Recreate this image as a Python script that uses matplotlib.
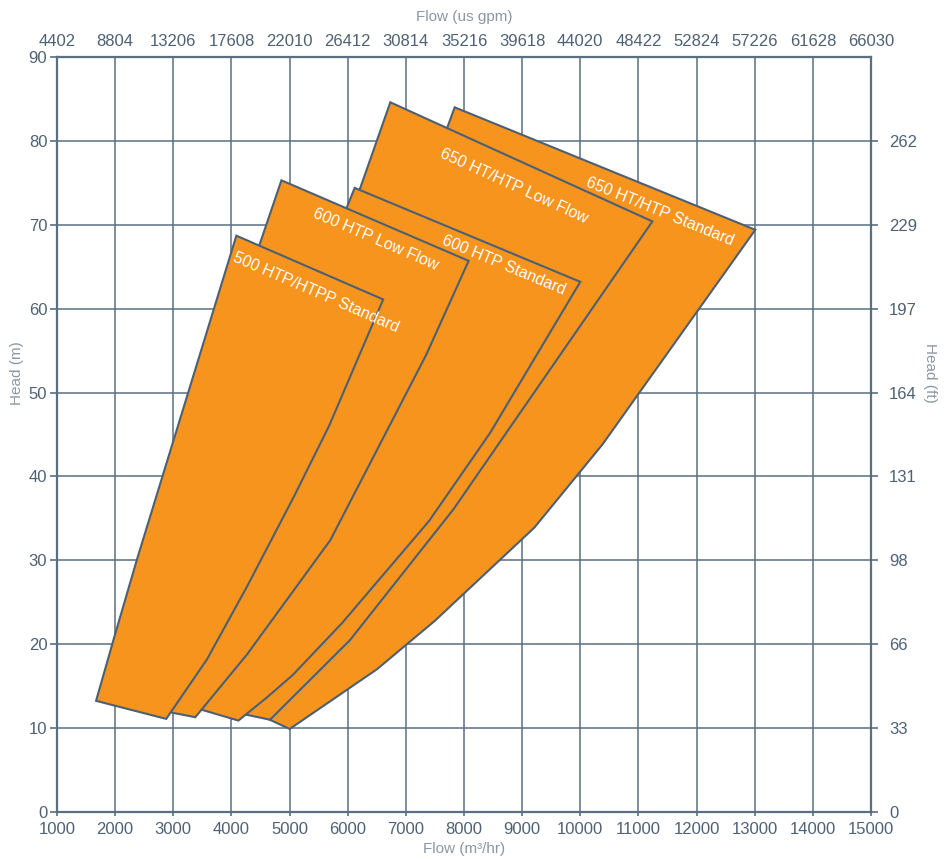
import matplotlib
matplotlib.use('Agg')
import matplotlib.pyplot as plt
import numpy as np
from matplotlib.patches import Polygon

plt.rcParams['font.family'] = ['Liberation Sans', 'DejaVu Sans']

# ---------------- data ----------------
flow_ticks = list(range(1000, 15001, 1000))
gpm_labels = ['4402', '8804', '13206', '17608', '22010', '26412', '30814',
              '35216', '39618', '44020', '48422', '52824', '57226', '61628', '66030']
head_ticks = list(range(0, 91, 10))
ft_ticks = list(range(0, 81, 10))
ft_labels = ['0', '33', '66', '98', '131', '164', '197', '229', '262']

# operating envelopes (flow m3/hr, head m), back to front
std650_flow = [4000, 7713, 7840, 13010, 10380, 9210, 7500, 6500, 5003]
std650_head = [13.1, 81.6, 84.0, 69.4, 43.8, 33.9, 22.8, 17.0, 9.9]

lf650_flow = [3300, 6206, 6733, 11240, 7820, 6040, 4664]
lf650_head = [13.0, 74.2, 84.6, 70.4, 36.1, 20.5, 11.0]

std600_flow = [2600, 6120, 10000, 8450, 7400, 5900, 5050, 4600, 4120]
std600_head = [14.0, 74.4, 63.2, 45.2, 34.7, 22.5, 16.3, 13.6, 10.9]

lf600_flow = [1900, 4487, 4860, 8080, 7350, 5700, 4270, 3379]
lf600_head = [13.3, 67.7, 75.3, 65.7, 54.5, 32.4, 18.8, 11.3]

std500_flow = [1672, 1975, 2375, 4085, 6610, 5678, 5075, 4270, 3580, 2879]
std500_head = [13.25, 20.6, 30.1, 68.7, 61.1, 46.0, 37.6, 26.9, 18.2, 11.1]

names = ['650 HT/HTP Standard', '650 HT/HTP Low Flow', '600 HTP Standard',
         '600 HTP Low Flow', '500 HTP/HTPP Standard']
flows = [std650_flow, lf650_flow, std600_flow, lf600_flow, std500_flow]
heads = [std650_head, lf650_head, std600_head, lf600_head, std500_head]
# index of top vertex and top-right vertex in each outline
top_idx = [2, 2, 1, 2, 3]
label_flow = [10155, 7650, 7690, 5460, 4100]
label_head = [75.9, 79.4, 69.0, 72.3, 67.0]

# ---------------- style ----------------
fill_c = '#F7941D'
edge_c = '#4B6074'
grid_c = '#5B6F83'
tick_c = '#4E6174'
title_c = '#8A97A5'

fig = plt.figure(figsize=(9.51, 8.59), dpi=100)
ax = fig.add_axes([57 / 951, 47 / 859, 814 / 951, 755 / 859])
ax.set_xlim(1000, 15000)
ax.set_ylim(0, 90)

ax.set_xticks(flow_ticks)
ax.set_yticks(head_ticks)
ax.grid(True, color=grid_c, linewidth=1.1, zorder=0)
ax.set_axisbelow(True)
for s in ax.spines.values():
    s.set_color(grid_c)
    s.set_linewidth(1.6)
ax.tick_params(axis='x', colors=tick_c, labelsize=12, length=3, pad=4, width=1.1)
ax.tick_params(axis='y', colors=tick_c, labelsize=12, length=5, pad=2, width=1.1)

for f, h in zip(flows, heads):
    poly = Polygon(np.column_stack([f, h]), closed=True, facecolor=fill_c,
                   edgecolor=edge_c, linewidth=1.5, zorder=2, joinstyle='miter')
    ax.add_patch(poly)

for name, f, h, ti, lx, ly in zip(names, flows, heads, top_idx, label_flow, label_head):
    p1 = ax.transData.transform((f[ti], h[ti]))
    p2 = ax.transData.transform((f[ti + 1], h[ti + 1]))
    ang = np.degrees(np.arctan2(p2[1] - p1[1], p2[0] - p1[0]))
    ax.text(lx, ly, name, color='white', fontsize=11.5, rotation=ang,
            rotation_mode='anchor', ha='left', va='top', zorder=5)

# right axis (ft)
axr = ax.twinx()
axr.set_ylim(0, 90)
axr.set_yticks(ft_ticks)
axr.set_yticklabels(ft_labels)
axr.tick_params(axis='y', colors=tick_c, labelsize=12, length=5, pad=8, width=1.1)
for s in axr.spines.values():
    s.set_visible(False)

# top axis (gpm)
axt = ax.twiny()
axt.set_xlim(1000, 15000)
axt.set_xticks(flow_ticks)
axt.set_xticklabels(gpm_labels)
axt.tick_params(axis='x', colors=tick_c, labelsize=12, length=0, pad=6)
for s in axt.spines.values():
    s.set_visible(False)

fig.text(464 / 951, 1 - 849 / 859, 'Flow (m³/hr)', color=title_c, fontsize=11,
         ha='center', va='center')
fig.text(464 / 951, 1 - 17 / 859, 'Flow (us gpm)', color=title_c, fontsize=11,
         ha='center', va='center')
fig.text(17 / 951, 1 - 373 / 859, 'Head (m)', color=title_c, fontsize=11,
         ha='center', va='center', rotation=90)
fig.text(930 / 951, 1 - 373 / 859, 'Head (ft)', color=title_c, fontsize=11,
         ha='center', va='center', rotation=-90)

fig.savefig('out.png', dpi=100, facecolor='white')
